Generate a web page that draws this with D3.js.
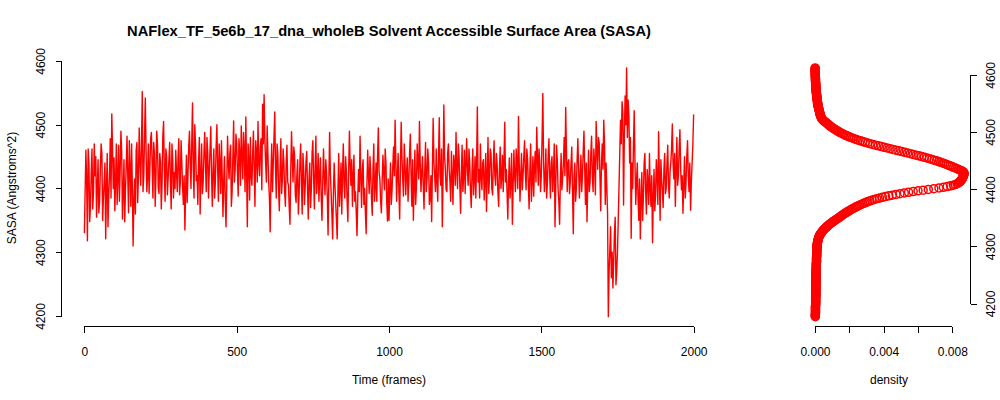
<!DOCTYPE html>
<html>
<head>
<meta charset="utf-8">
<script src="https://cdn.jsdelivr.net/npm/d3@7"></script>
<style>
  body { margin: 0; background: #fff; }
  svg text { font-family: "Liberation Sans", Arial, Helvetica, sans-serif; fill: #000; }
</style>
</head>
<body>
<div id="vis"></div>
<script>
// SASA values, one value every 2.5 frames (frame 0 .. 2000)
var frameStep = 2.5;
var sasa = [
  4330,4395,4460,4412,4318,4462,4440,4348,4372,4425,4462,4368,4395,4470,4420,4450,4355,4402,4445,4362,4380,4432,4470,4455,4350,4385,4410,4440,4321,4398,4455,4340,4390,4420,4478,4385,4517,4462,4400,4448,
  4365,4412,4470,4375,4420,4468,4380,4430,4490,4458,4352,4395,4445,4348,4400,4435,4482,4420,4362,4475,4430,4372,4470,4405,4310,4382,4415,4360,4460,4472,4378,4420,4495,4440,4405,4470,4552,4395,4420,4480,
  4542,4460,4395,4418,4470,4392,4430,4478,4488,4440,4385,4472,4455,4372,4420,4490,4470,4402,4392,4455,4440,4368,4408,4482,4505,4428,4380,4462,4450,4390,4415,4445,4472,4412,4368,4470,4445,4385,4425,4400,
  4460,4425,4395,4448,4478,4390,4410,4475,4440,4402,4375,4420,4335,4398,4452,4378,4420,4465,4490,4440,4400,4472,4534,4430,4385,4500,4468,4412,4420,4375,4445,4480,4360,4418,4470,4392,4410,4455,4488,4440,
  4395,4480,4455,4385,4428,4460,4497,4420,4372,4430,4462,4385,4410,4465,4500,4432,4380,4470,4440,4392,4475,4420,4356,4412,4450,4380,4340,4410,4482,4440,4415,4455,4468,4372,4395,4450,4506,4410,4430,4485,
  4470,4425,4388,4478,4455,4405,4498,4452,4415,4488,4462,4395,4512,4428,4340,4470,4445,4382,4480,4420,4405,4455,4490,4428,4372,4475,4458,4410,4505,4440,4420,4465,4478,4398,4532,4470,4547,4478,4440,4410,
  4498,4455,4410,4385,4332,4420,4470,4395,4438,4480,4520,4430,4385,4470,4455,4400,4365,4430,4478,4392,4415,4462,4440,4395,4372,4440,4468,4410,4405,4370,4344,4430,4489,4448,4410,4465,4452,4390,4378,4420,
  4445,4360,4392,4440,4470,4410,4360,4455,4430,4375,4405,4442,4458,4400,4352,4415,4440,4370,4398,4455,4475,4420,4368,4430,4482,4392,4415,4455,4380,4420,4448,4385,4350,4410,4462,4418,4390,4445,4425,4385,
  4327,4410,4488,4425,4395,4360,4321,4392,4440,4405,4378,4350,4321,4398,4455,4372,4402,4440,4360,4425,4470,4405,4385,4450,4428,4380,4348,4425,4490,4438,4405,4445,4372,4420,4452,4380,4395,4362,4326,4385,
  4430,4395,4482,4420,4370,4430,4445,4375,4400,4362,4329,4405,4460,4420,4392,4450,4425,4385,4358,4430,4470,4380,4405,4440,4380,4452,4495,4425,4415,4380,4362,4410,4452,4425,4398,4462,4440,4380,4349,4415,
  4350,4400,4440,4375,4398,4435,4465,4420,4507,4445,4380,4420,4455,4395,4352,4430,4504,4450,4415,4388,4470,4440,4390,4425,4448,4380,4410,4455,4485,4420,4372,4445,4350,4405,4460,4375,4402,4470,4438,4415,
  4505,4440,4395,4425,4450,4405,4368,4430,4472,4395,4418,4462,4440,4375,4385,4420,4348,4432,4510,4440,4420,4395,4462,4410,4380,4450,4511,4420,4405,4462,4340,4420,4531,4450,4430,4398,4395,4455,4470,4430,
  4412,4380,4458,4420,4375,4452,4440,4405,4488,4430,4400,4470,4450,4405,4361,4420,4468,4395,4420,4460,4392,4440,4478,4425,4405,4462,4440,4395,4370,4425,4462,4390,4415,4450,4385,4440,4528,4410,4430,4385,
  4470,4420,4398,4440,4445,4382,4415,4455,4364,4420,4480,4392,4420,4462,4455,4400,4390,4440,4475,4420,4405,4455,4438,4395,4372,4430,4465,4400,4418,4452,4395,4445,4504,4410,4430,4395,4352,4410,4448,4385,
  4410,4455,4344,4405,4460,4420,4395,4462,4440,4400,4513,4440,4380,4420,4455,4398,4420,4450,4475,4425,4398,4462,4445,4405,4368,4430,4470,4380,4412,4450,4388,4435,4458,4410,4496,4448,4405,4462,4440,4395,
  4420,4480,4549,4440,4395,4420,4462,4385,4410,4450,4478,4420,4385,4440,4450,4395,4425,4470,4340,4405,4468,4445,4400,4380,4344,4412,4455,4398,4418,4440,4480,4420,4527,4460,4395,4440,4445,4392,4410,4440,
  4465,4395,4329,4420,4440,4380,4400,4445,4478,4430,4385,4420,4452,4395,4420,4458,4490,4430,4375,4440,4348,4410,4460,4395,4410,4455,4482,4420,4395,4462,4440,4390,4505,4462,4430,4480,4472,4418,4365,4440,
  4470,4430,4507,4470,4375,4440,4403,4360,4199,4270,4305,4340,4260,4300,4244,4285,4330,4355,4249,4270,4300,4350,4402,4455,4507,4470,4536,4520,4374,4480,4545,4500,4589,4480,4539,4515,4440,4480,4322,4440,
  4400,4470,4522,4440,4375,4410,4440,4385,4350,4415,4321,4380,4425,4350,4385,4440,4455,4395,4360,4430,4410,4375,4455,4400,4372,4420,4315,4385,4430,4365,4390,4445,4420,4375,4489,4420,4350,4445,4415,4395,
  4370,4430,4455,4392,4400,4440,4468,4405,4385,4425,4440,4462,4501,4440,4415,4455,4372,4430,4480,4405,4420,4462,4492,4430,4398,4420,4361,4405,4450,4385,4410,4450,4475,4420,4395,4440,4366,4410,4440,4470,
  4516
];

// density of SASA, on a grid starting at densStart with step densStep
var densStart = 4177, densStep = 1.25;
var density = [
  .00002,.00002,.00002,.00002,.00003,.00003,.00003,.00003,.00003,.00003,.00003,.00003,.00003,.00003,.00003,.00003,.00004,.00004,.00004,.00004,
  .00004,.00004,.00004,.00004,.00004,.00004,.00004,.00004,.00005,.00005,.00005,.00005,.00005,.00005,.00005,.00005,.00005,.00005,.00005,.00005,
  .00005,.00005,.00005,.00005,.00005,.00005,.00005,.00005,.00006,.00006,.00006,.00006,.00006,.00006,.00006,.00006,.00006,.00006,.00006,.00006,
  .00007,.00007,.00007,.00007,.00007,.00007,.00007,.00007,.00008,.00008,.00008,.00008,.00008,.00008,.00008,.00008,.00009,.00009,.00009,.00009,
  .00009,.00009,.00009,.00009,.00010,.00010,.00010,.00010,.00010,.00010,.00010,.00010,.00011,.00011,.00011,.00011,.00012,.00012,.00012,.00012,
  .00013,.00013,.00014,.00014,.00015,.00016,.00017,.00018,.00019,.00020,.00021,.00022,.00024,.00026,.00028,.00030,.00033,.00036,.00039,.00042,
  .00045,.00049,.00053,.00057,.00061,.00065,.00070,.00074,.00079,.00084,.00089,.00094,.00100,.00106,.00112,.00118,.00124,.00130,.00136,.00142,
  .00148,.00153,.00159,.00165,.00171,.00177,.00184,.00191,.00198,.00205,.00212,.00219,.00227,.00235,.00243,.00251,.00260,.00269,.00278,.00288,
  .00298,.00309,.00320,.00332,.00345,.00360,.00376,.00393,.00411,.00430,.00450,.00472,.00495,.00520,.00545,.00572,.00600,.00630,.00660,.00692,
  .00722,.00748,.00770,.00790,.00806,.00818,.00828,.00835,.00840,.00845,.00849,.00852,.00855,.00857,.00859,.00861,.00863,.00865,.00866,.00867,
  .00868,.00868,.00866,.00862,.00853,.00845,.00836,.00827,.00817,.00807,.00797,.00787,.00777,.00766,.00755,.00744,.00732,.00720,.00707,.00694,
  .00681,.00667,.00652,.00637,.00621,.00605,.00589,.00572,.00556,.00539,.00522,.00505,.00488,.00471,.00454,.00437,.00420,.00403,.00386,.00369,
  .00353,.00337,.00321,.00306,.00292,.00278,.00265,.00252,.00240,.00228,.00217,.00206,.00196,.00186,.00177,.00168,.00160,.00152,.00144,.00137,
  .00130,.00123,.00116,.00110,.00104,.00098,.00092,.00087,.00082,.00077,.00072,.00067,.00062,.00057,.00052,.00047,.00043,.00040,.00038,.00036,
  .00034,.00033,.00031,.00030,.00029,.00028,.00027,.00026,.00025,.00024,.00023,.00022,.00021,.00020,.00019,.00018,.00018,.00017,.00016,.00015,
  .00015,.00014,.00014,.00013,.00013,.00012,.00012,.00011,.00011,.00010,.00010,.00009,.00009,.00008,.00008,.00007,.00007,.00007,.00006,.00006,
  .00006,.00005,.00005,.00005,.00005,.00004,.00004,.00004,.00004,.00003,.00003,.00003,.00003,.00003,.00003,.00002,.00002,.00002,.00002,.00002,
  .00002,.00002,.00001,.00001,.00001,.00001,.00001,.00001,.00001
];

var xTicks = [0, 500, 1000, 1500, 2000];
var yTicks = [4200, 4300, 4400, 4500, 4600];
var densTicks = [0, 0.002, 0.004, 0.006, 0.008];
var densLabels = ["0.000", "", "0.004", "", "0.008"];

var title = "NAFlex_TF_5e6b_17_dna_wholeB Solvent Accessible Surface Area (SASA)";

var width = 1000, height = 400;

// R style 4% padding of the data range
function pad(ext) {
  var d = (ext[1] - ext[0]) * 0.04;
  return [ext[0] - d, ext[1] + d];
}

var svg = d3.select("#vis").append("svg")
  .attr("width", width)
  .attr("height", height);

var frames = sasa.map(function(d, i) { return i * frameStep; });
var grid = density.map(function(d, i) { return densStart + i * densStep; });

var x = d3.scaleLinear().domain(pad(d3.extent(frames))).range([60, 718]);
var y = d3.scaleLinear().domain(pad(d3.extent(sasa))).range([326.6, 58]);

var dx = d3.scaleLinear().domain(pad([0, d3.max(density)])).range([809, 970]);
var dy = d3.scaleLinear().domain(pad(d3.extent(grid))).range([326.6, 58]);

// time series
var line = d3.line()
  .x(function(d, i) { return x(frames[i]); })
  .y(function(d) { return y(d); });

svg.append("path")
  .datum(sasa)
  .attr("d", line)
  .attr("fill", "none")
  .attr("stroke", "#ff0000")
  .attr("stroke-width", 1.4)
  .attr("stroke-linejoin", "round");

// density points (open circles)
svg.append("g")
  .selectAll("circle")
  .data(density)
  .enter()
    .append("circle")
    .attr("cx", function(d) { return dx(d); })
    .attr("cy", function(d, i) { return dy(grid[i]); })
    .attr("r", 4)
    .attr("fill", "none")
    .attr("stroke", "#ff0000")
    .attr("stroke-width", 1.5);

// axes, drawn the R way: line only between first and last tick
function tidy(g, vertical, scale, ticks) {
  g.select(".domain").remove();
  g.selectAll(".tick line").attr("stroke", "#000");
  g.selectAll("text").style("font-size", "12px");
  var a = scale(ticks[0]), b = scale(ticks[ticks.length - 1]);
  g.append("line")
    .attr("x1", vertical ? 0 : a).attr("x2", vertical ? 0 : b)
    .attr("y1", vertical ? a : 0).attr("y2", vertical ? b : 0)
    .attr("stroke", "#000");
}

var gx = svg.append("g")
  .attr("transform", "translate(0,326.5)")
  .call(d3.axisBottom(x).tickValues(xTicks).tickSize(6).tickPadding(15).tickFormat(d3.format("d")));
tidy(gx, false, x, xTicks);

var gy = svg.append("g")
  .attr("transform", "translate(61.5,0)")
  .call(d3.axisLeft(y).tickValues(yTicks).tickSize(6).tickFormat(d3.format("d")));
tidy(gy, true, y, yTicks);
gy.selectAll(".tick text")
  .attr("x", null).attr("dy", null)
  .attr("text-anchor", "middle")
  .attr("transform", "translate(-17,0) rotate(-90)");

var gdx = svg.append("g")
  .attr("transform", "translate(0,326.5)")
  .call(d3.axisBottom(dx).tickValues(densTicks).tickSize(6).tickPadding(15)
    .tickFormat(function(d, i) { return densLabels[i]; }));
tidy(gdx, false, dx, densTicks);

var gdy = svg.append("g")
  .attr("transform", "translate(970.5,0)")
  .call(d3.axisRight(dy).tickValues(yTicks).tickSize(6).tickFormat(d3.format("d")));
tidy(gdy, true, dy, yTicks);
gdy.selectAll(".tick text")
  .attr("x", null).attr("dy", null)
  .attr("text-anchor", "middle")
  .attr("transform", "translate(24,0) rotate(-90)");

svg.selectAll("line").attr("shape-rendering", "crispEdges");

// titles
svg.append("text")
  .attr("x", 389).attr("y", 36)
  .attr("text-anchor", "middle")
  .style("font-size", "14.7px")
  .style("font-weight", "bold")
  .text(title);

svg.append("text")
  .attr("x", 389).attr("y", 384)
  .attr("text-anchor", "middle")
  .style("font-size", "12px")
  .text("Time (frames)");

svg.append("text")
  .attr("x", 889).attr("y", 384)
  .attr("text-anchor", "middle")
  .style("font-size", "12px")
  .text("density");

svg.append("text")
  .attr("transform", "translate(16,188) rotate(-90)")
  .attr("text-anchor", "middle")
  .style("font-size", "12px")
  .text("SASA (Angstroms^2)");
</script>
</body>
</html>
